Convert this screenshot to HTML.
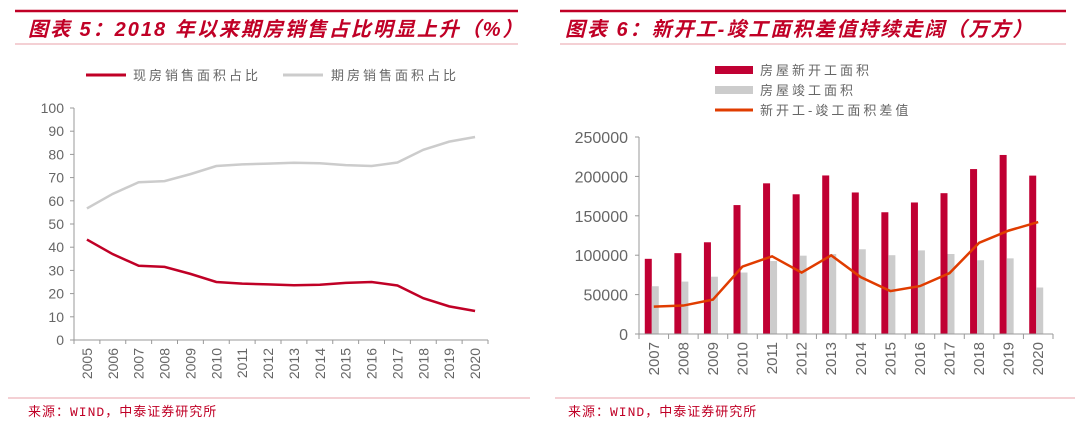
<!DOCTYPE html>
<html><head><meta charset="utf-8"><style>
body{margin:0;width:1080px;height:433px;background:#fff;overflow:hidden;font-family:"Liberation Sans","Noto Sans CJK SC",sans-serif}
svg{display:block}
</style></head><body>
<svg id="s" width="1080" height="433">
<g>
<line x1="15" y1="11" x2="518" y2="11" stroke="#c00026" stroke-width="2.5"/>
<text x="28" y="36" font-size="20" font-weight="bold" font-style="italic" fill="#c00026" letter-spacing="2">图表 5：2018 年以来期房销售占比明显上升（%）</text>
<line x1="15" y1="44" x2="518" y2="44" stroke="#e8a0a8" stroke-width="1"/>
</g>
<g>
<line x1="560" y1="11" x2="1066" y2="11" stroke="#c00026" stroke-width="2.5"/>
<text x="565" y="36" font-size="20" font-weight="bold" font-style="italic" fill="#c00026" letter-spacing="2">图表 6：新开工-竣工面积差值持续走阔（万方）</text>
<line x1="560" y1="44" x2="1066" y2="44" stroke="#e8a0a8" stroke-width="1"/>
</g>
<g>
<line x1="86" y1="75" x2="126" y2="75" stroke="#c00026" stroke-width="3"/>
<text x="133" y="80" font-size="13" fill="#666" letter-spacing="3">现房销售面积占比</text>
<line x1="283" y1="75" x2="323" y2="75" stroke="#cccccc" stroke-width="3"/>
<text x="331" y="80" font-size="13" fill="#666" letter-spacing="3">期房销售面积占比</text>
</g>
<g>
<rect x="715" y="66" width="38" height="8" fill="#c00033"/>
<text x="760" y="75" font-size="13" fill="#666" letter-spacing="3">房屋新开工面积</text>
<rect x="715" y="86" width="38" height="8" fill="#cccccc"/>
<text x="760" y="95" font-size="13" fill="#666" letter-spacing="3">房屋竣工面积</text>
<line x1="715" y1="110" x2="753" y2="110" stroke="#e03c00" stroke-width="3"/>
<text x="760" y="115" font-size="13" fill="#666" letter-spacing="3">新开工-竣工面积差值</text>
</g>
<g id="L"></g><g id="R"></g>
<line x1="8" y1="398" x2="530" y2="398" stroke="#e8a0a8"/>
<line x1="555" y1="398" x2="1075" y2="398" stroke="#e8a0a8"/>
<text x="28" y="416" font-size="13" fill="#c00026" letter-spacing="1" font-family="'Liberation Mono','Noto Sans CJK SC',monospace">来源：WIND，中泰证券研究所</text>
<text x="568" y="416" font-size="13" fill="#c00026" letter-spacing="1" font-family="'Liberation Mono','Noto Sans CJK SC',monospace">来源：WIND，中泰证券研究所</text>
</svg>
<script>
const leftYears=["2005","2006","2007","2008","2009","2010","2011","2012","2013","2014","2015","2016","2017","2018","2019","2020"];
const spotShare=[43.3,37,32,31.5,28.5,25,24.3,24,23.6,23.8,24.6,25,23.5,18,14.5,12.5];
const presaleShare=[56.7,63,68,68.5,71.5,75,75.7,76,76.4,76.2,75.4,75,76.5,82,85.5,87.5];
const leftTicks=[0,10,20,30,40,50,60,70,80,90,100];
const rightYears=["2007","2008","2009","2010","2011","2012","2013","2014","2015","2016","2017","2018","2019","2020"];
const newStarts=[95400,102600,116400,163600,191200,177300,201200,179600,154500,166900,178700,209300,227200,201000];
const completed=[60600,66500,72700,78000,92600,99400,101400,107500,100000,106100,101500,93600,96000,59000];
const diffArea=[34800,36100,43700,85600,98600,77900,99800,72100,54500,60800,77200,115700,131200,142000];
const rightTicks=[0,50000,100000,150000,200000,250000];
const NS="http://www.w3.org/2000/svg";
function mk(p,t,a){const e=document.createElementNS(NS,t);for(const k in a)e.setAttribute(k,a[k]);p.appendChild(e);return e;}
const L=document.getElementById('L');
const lx0=74,lx1=488,ly0=340,ly1=108;
const lyS=v=>ly0-(v/100)*(ly0-ly1);
const lstep=(lx1-lx0)/leftYears.length;
const lxS=i=>lx0+lstep*(i+0.5);
mk(L,'line',{x1:lx0,y1:ly1,x2:lx0,y2:ly0,stroke:'#999'});
mk(L,'line',{x1:lx0,y1:ly0,x2:lx1,y2:ly0,stroke:'#999'});
leftTicks.forEach(t=>{const y=lyS(t);
mk(L,'line',{x1:lx0-4,y1:y,x2:lx0,y2:y,stroke:'#999'});
const tx=mk(L,'text',{x:lx0-10,y:y+5,'font-size':14,fill:'#666','text-anchor':'end'});tx.textContent=t;

});
leftYears.forEach((c,i)=>{const x=lx0+lstep*i;
mk(L,'line',{x1:x,y1:ly0,x2:x,y2:ly0+4,stroke:'#999'});
const tx=mk(L,'text',{x:0,y:0,'font-size':14,fill:'#666','text-anchor':'end',transform:`translate(${lxS(i)+5},${ly0+8}) rotate(-90)`});tx.textContent=c;

});
mk(L,'line',{x1:lx1,y1:ly0,x2:lx1,y2:ly0+4,stroke:'#999'});
const p2=mk(L,'polyline',{points:presaleShare.map((v,i)=>lxS(i)+','+lyS(v)).join(' '),fill:'none',stroke:'#cccccc','stroke-width':2.5});


const p1=mk(L,'polyline',{points:spotShare.map((v,i)=>lxS(i)+','+lyS(v)).join(' '),fill:'none',stroke:'#c00026','stroke-width':2.5});


const R=document.getElementById('R');
const rx0=639,rx1=1053,ry0=334,ry1=137;
const ryS=v=>ry0-(v/250000)*(ry0-ry1);
const rstep=(rx1-rx0)/rightYears.length;
const rxS=i=>rx0+rstep*(i+0.5);
mk(R,'line',{x1:rx0,y1:ry1,x2:rx0,y2:ry0,stroke:'#999'});
rightTicks.forEach(t=>{const y=ryS(t);
mk(R,'line',{x1:rx0-4,y1:y,x2:rx0,y2:y,stroke:'#999'});
const tx=mk(R,'text',{x:rx0-11,y:y+6,'font-size':16,fill:'#666','text-anchor':'end'});tx.textContent=t;

});
const bw=7;
rightYears.forEach((c,i)=>{const cx=rxS(i);
const b1=mk(R,'rect',{x:cx-bw-2,y:ryS(newStarts[i]),width:bw,height:ry0-ryS(newStarts[i]),fill:'#c00033'});


const b2=mk(R,'rect',{x:cx-2,y:ryS(completed[i]),width:bw,height:ry0-ryS(completed[i]),fill:'#cccccc'});


const x=rx0+rstep*i;
mk(R,'line',{x1:x,y1:ry0,x2:x,y2:ry0+5,stroke:'#999'});
const tx=mk(R,'text',{x:0,y:0,'font-size':15,fill:'#666','text-anchor':'end',transform:`translate(${cx+5},${ry0+8}) rotate(-90)`});tx.textContent=c;

});
mk(R,'line',{x1:rx1,y1:ry0,x2:rx1,y2:ry0+5,stroke:'#999'});
mk(R,'line',{x1:rx0,y1:ry0,x2:rx1,y2:ry0,stroke:'#999'});
const dl=mk(R,'polyline',{points:diffArea.map((v,i)=>rxS(i)+','+ryS(v)).join(' '),fill:'none',stroke:'#e03c00','stroke-width':2.5});


</script>
</body></html>
